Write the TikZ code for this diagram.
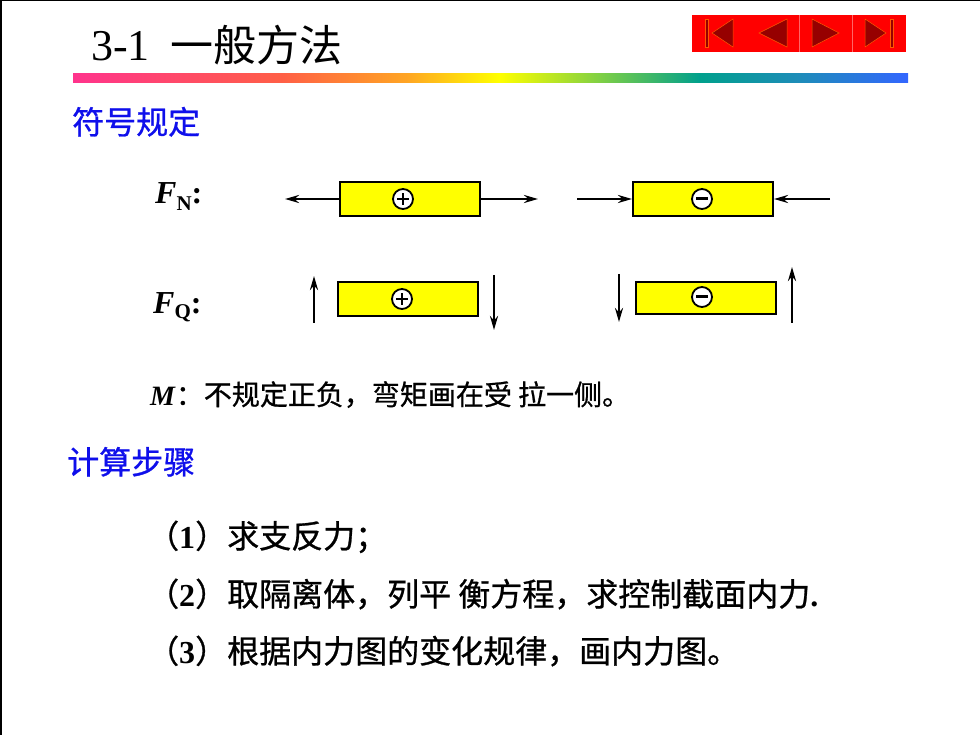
\documentclass[tikz,border=0pt]{standalone}
\usepackage{fontspec}
\setmainfont{Liberation Serif}
\newfontfamily\cjk{Noto Sans CJK SC}
\newfontfamily\cjkbody{Noto Sans CJK SC}[FakeBold=0.8]
\usetikzlibrary{arrows.meta}
\definecolor{navred}{RGB}{255,0,0}
\definecolor{navdark}{RGB}{150,0,0}
\definecolor{headblue}{RGB}{15,15,235}
\definecolor{barfill}{RGB}{255,255,0}
\definecolor{rbA}{RGB}{255,51,140}
\definecolor{rbB}{RGB}{255,95,70}
\definecolor{rbC}{RGB}{255,165,35}
\definecolor{rbD}{RGB}{255,255,0}
\definecolor{rbE}{RGB}{160,220,50}
\definecolor{rbF}{RGB}{0,160,140}
\definecolor{rbG}{RGB}{30,140,185}
\definecolor{rbH}{RGB}{51,102,255}
\pgfdeclarehorizontalshading{rainbowbar}{100bp}{color(0bp)=(rbA); color(25bp)=(rbA); color(37.5bp)=(rbB); color(45bp)=(rbC); color(50.5bp)=(rbD); color(55bp)=(rbE); color(62.5bp)=(rbF); color(68.5bp)=(rbG); color(75bp)=(rbH); color(100bp)=(rbH)}

\begin{document}
\begin{tikzpicture}[x=1pt,y=-1pt,
  bar/.style={draw,line width=2pt,fill=barfill,minimum width=140pt,minimum height=34pt,inner sep=0},
  sign/.style={circle,draw,line width=1.8pt,fill=white,minimum size=20pt,inner sep=0},
  force/.style={line width=2.6pt,-{Stealth[length=14pt,width=8pt]}},
  txt/.style={anchor=base west,inner sep=0},
  navicon/.style={fill=navdark,draw=orange!70!red,line width=0.5pt}]
\useasboundingbox (0,0) rectangle (980,735);
\draw[line width=3pt] (0,735) -- (0,0) -- (980,0);

\node[txt,font=\fontsize{44}{44}\selectfont] (num) at (91,61) {3-1};
\node[txt,font=\cjk\fontsize{43}{43}\selectfont] (title) at (170,62) {一般方法};
\shade[shading=rainbowbar] (73,74) rectangle (908,83);

\fill[navred] (692,15) rectangle (906,52);
\draw[red!60!white,line width=0.6pt] (799,15) -- (799,52) (852,15) -- (852,52);
\filldraw[navicon] (705,19) rectangle (708,47);
\filldraw[navicon] (712,33) -- (733,19) -- (733,47) -- cycle;
\filldraw[navicon] (759,33) -- (787,19) -- (787,47) -- cycle;
\filldraw[navicon] (839,33) -- (812,19) -- (812,47) -- cycle;
\filldraw[navicon] (886,33) -- (865,19) -- (865,47) -- cycle;
\filldraw[navicon] (890,19) rectangle (893,47);

\node[txt,text=headblue,font=\cjkbody\fontsize{32}{32}\selectfont] (fuhao) at (72,134) {符号规定};

\node[txt,font=\fontsize{32}{32}\selectfont\bfseries] (fn) at (155,204) {\textit{F}\raisebox{-7pt}{\fontsize{21}{21}\selectfont N}:};
\node[txt,font=\fontsize{32}{32}\selectfont\bfseries] (fq) at (153,314) {\textit{F}\raisebox{-5pt}{\fontsize{21}{21}\selectfont Q}:};

\node[bar] (p1) at (410,199) {};
\node[sign] (p1s) at (403,199) {};
\draw[line width=1.8pt] ([xshift=-6pt]p1s.center) -- ([xshift=6pt]p1s.center) ([yshift=-6pt]p1s.center) -- ([yshift=6pt]p1s.center);
\coordinate (p1l) at (285,199);
\coordinate (p1r) at (538,199);
\draw[force] (p1.west) -- (p1l);
\draw[force] (p1.east) -- (p1r);

\node[bar] (m1) at (703,199) {};
\node[sign] (m1s) at (702,199) {};
\draw[line width=3pt] ([xshift=-6pt]m1s.center) -- ([xshift=6pt]m1s.center);
\coordinate (m1l) at (577,199);
\coordinate (m1r) at (830,199);
\draw[force] (m1l) -- (m1.west);
\draw[force] (m1r) -- (m1.east);

\node[bar] (p2) at (408,299) {};
\node[sign] (p2s) at (402,299) {};
\draw[line width=1.8pt] ([xshift=-6pt]p2s.center) -- ([xshift=6pt]p2s.center) ([yshift=-6pt]p2s.center) -- ([yshift=6pt]p2s.center);
\coordinate (p2a) at (314,323);
\coordinate (p2b) at (314,276);
\coordinate (p2c) at (494,275);
\coordinate (p2d) at (494,330);
\draw[force] (p2a) -- (p2b);
\draw[force] (p2c) -- (p2d);

\node[bar,minimum height=32pt] (m2) at (706,298) {};
\node[sign] (m2s) at (702,297) {};
\draw[line width=3pt] ([xshift=-6pt]m2s.center) -- ([xshift=6pt]m2s.center);
\coordinate (m2a) at (619,274);
\coordinate (m2b) at (619,322);
\coordinate (m2c) at (792,323);
\coordinate (m2d) at (792,267);
\draw[force] (m2a) -- (m2b);
\draw[force] (m2c) -- (m2d);

\node[txt,font=\fontsize{28}{28}\selectfont] (mline) at (150,405) {\textbf{\textit{M}}{\cjkbody ：不规定正负，弯矩画在受 拉一侧。}};

\node[txt,text=headblue,font=\cjkbody\fontsize{32}{32}\selectfont] (buzhou) at (67,474) {计算步骤};

\node[txt,font=\fontsize{32}{32}\selectfont] (s1) at (147,548) {{\cjkbody （}\textbf{1}{\cjkbody ）求支反力；}};
\node[txt,font=\fontsize{32}{32}\selectfont] (s2) at (147,606) {{\cjkbody （}\textbf{2}{\cjkbody ）取隔离体，列平 衡方程，求控制截面内力}\textbf{.}};
\node[txt,font=\fontsize{32}{32}\selectfont] (s3) at (147,663) {{\cjkbody （}\textbf{3}{\cjkbody ）根据内力图的变化规律，画内力图。}};
\end{tikzpicture}
\end{document}
